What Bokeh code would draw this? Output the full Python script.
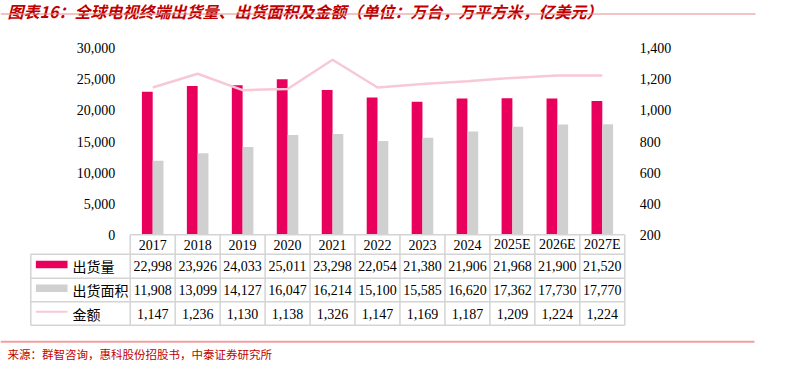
from bokeh.plotting import figure
from bokeh.models import Range1d, ColumnDataSource
from bokeh.core.properties import value
from bokeh.embed import file_html
from bokeh.resources import INLINE

# ---------------- data ----------------
title_text = "图表16：全球电视终端出货量、出货面积及金额（单位：万台，万平方米，亿美元）"
source_text = "来源：群智咨询，惠科股份招股书，中泰证券研究所"
years = ["2017", "2018", "2019", "2020", "2021", "2022", "2023", "2024", "2025E", "2026E", "2027E"]
shipments = [22998, 23926, 24033, 25011, 23298, 22054, 21380, 21906, 21968, 21900, 21520]
area = [11908, 13099, 14127, 16047, 16214, 15100, 15585, 16620, 17362, 17730, 17770]
amount = [1147, 1236, 1130, 1138, 1326, 1147, 1169, 1187, 1209, 1224, 1224]
series_names = ["出货量", "出货面积", "金额"]
left_ticks = [0, 5000, 10000, 15000, 20000, 25000, 30000]
right_ticks = [200, 400, 600, 800, 1000, 1200, 1400]

# ---------------- style / layout ----------------
RED = "#E9005C"
GREY = "#D0D0D0"
PINK = "#F8C8D5"
TITLE_RED = "#C00000"
GRID = "#D4D4D4"
NUM_FONT = value("Liberation Serif")
CJK_FONT = value("Noto Sans CJK SC")

W, H = 784, 363
COL0_X = 152.2     # pixel x of first category centre
COL_W = 44.96      # pixel width of one category column
ZERO_Y = 234.3     # pixel y of axis minimum
TOP_Y = 47.7       # pixel y of axis maximum
LEG_LEFT_PX = 30.3
ROW_Y = [234.3, 253.7, 277.7, 301.3, 324.7]

n = len(years)
idx = list(range(n))

ls = (left_ticks[-1] - left_ticks[0]) / (ZERO_Y - TOP_Y)
rs = (right_ticks[-1] - right_ticks[0]) / (ZERO_Y - TOP_Y)

p = figure(width=W, height=H, output_backend="svg", toolbar_location=None,
           x_range=Range1d(0, W), y_range=Range1d(H, 0),
           x_axis_type=None, y_axis_type=None, min_border=0)
p.outline_line_color = None
p.background_fill_color = "white"
p.border_fill_color = "white"
p.extra_x_ranges = {"cat": Range1d(-COL0_X / COL_W, (W - COL0_X) / COL_W)}
p.extra_y_ranges = {
    "left": Range1d(left_ticks[0] - (H - ZERO_Y) * ls, left_ticks[0] + ZERO_Y * ls),
    "right": Range1d(right_ticks[0] - (H - ZERO_Y) * rs, right_ticks[0] + ZERO_Y * rs),
}

src = ColumnDataSource(dict(
    x=idx, xr=[i - 0.12 for i in idx], xg=[i + 0.12 for i in idx],
    year=years, ship=shipments, area=area, amount=amount,
    ship_lbl=[f"{v:,}" for v in shipments],
    area_lbl=[f"{v:,}" for v in area],
    amount_lbl=[f"{v:,}" for v in amount],
))

# bars
p.vbar(x="xr", top="ship", bottom=0, width=0.24, source=src,
       x_range_name="cat", y_range_name="left", fill_color=RED, line_color=None)
p.vbar(x="xg", top="area", bottom=0, width=0.24, source=src,
       x_range_name="cat", y_range_name="left", fill_color=GREY, line_color=None)
# line
p.line(x="x", y="amount", source=src, x_range_name="cat", y_range_name="right",
       line_color=PINK, line_width=2.5)

# axis tick labels
p.text(x=[114.7] * len(left_ticks), y=left_ticks, text=[f"{t:,}" for t in left_ticks],
       y_range_name="left", text_align="right", text_baseline="middle",
       text_font=NUM_FONT, text_font_size="14px", text_color="black")
p.text(x=[639.3] * len(right_ticks), y=right_ticks, text=[f"{t:,}" for t in right_ticks],
       y_range_name="right", text_align="left", text_baseline="middle",
       text_font=NUM_FONT, text_font_size="14px", text_color="black")

# data table grid
leg_left = (LEG_LEFT_PX - COL0_X) / COL_W
hx0 = [-0.5] + [leg_left] * (len(ROW_Y) - 1)
hx1 = [n - 0.5] * len(ROW_Y)
p.segment(x0=hx0, y0=ROW_Y, x1=hx1, y1=ROW_Y, x_range_name="cat",
          line_color=GRID, line_width=1.5)
vx = [i - 0.5 for i in range(n + 1)] + [leg_left]
vy0 = [ROW_Y[0]] * (n + 1) + [ROW_Y[1]]
vy1 = [ROW_Y[-1]] * (n + 2)
p.segment(x0=vx, y0=vy0, x1=vx, y1=vy1, x_range_name="cat",
          line_color=GRID, line_width=1.5)

mids = [(ROW_Y[k] + ROW_Y[k + 1]) / 2 for k in range(len(ROW_Y) - 1)]
for k, col in enumerate(["year", "ship_lbl", "area_lbl", "amount_lbl"]):
    p.text(x="x", y=mids[k], text=col, source=src, x_range_name="cat",
           text_align="center", text_baseline="middle",
           text_font=NUM_FONT, text_font_size="14px", text_color="black")

# legend column
p.rect(x=[51.2, 51.2], y=[mids[1] - 1.7, mids[2] - 1.7], width=31.7, height=7.4,
       fill_color=[RED, GREY], line_color=None)
p.segment(x0=[35.3], y0=[mids[3] - 1.7], x1=[67.0], y1=[mids[3] - 1.7],
          line_color=PINK, line_width=2)
p.text(x=[72] * 3, y=[m for m in mids[1:]], text=series_names,
       text_align="left", text_baseline="middle",
       text_font=CJK_FONT, text_font_size="14px", text_color="black")

# title and source
p.text(x=[7], y=[-1.5], text=[title_text], text_align="left", text_baseline="top",
       text_font=CJK_FONT, text_font_size="16px", text_font_style="bold italic",
       text_color=TITLE_RED)
p.segment(x0=[0], y0=[13.5], x1=[755], y1=[13.5], line_color="#E48A8A", line_width=1)
p.segment(x0=[0], y0=[341.3], x1=[754], y1=[341.3], line_color="#F0A0A0", line_width=2)
p.text(x=[7], y=[353.7], text=[source_text], text_align="left", text_baseline="middle",
       text_font=CJK_FONT, text_font_size="11.5px", text_color=TITLE_RED)

open("out.html", "w").write(file_html(p, INLINE))
